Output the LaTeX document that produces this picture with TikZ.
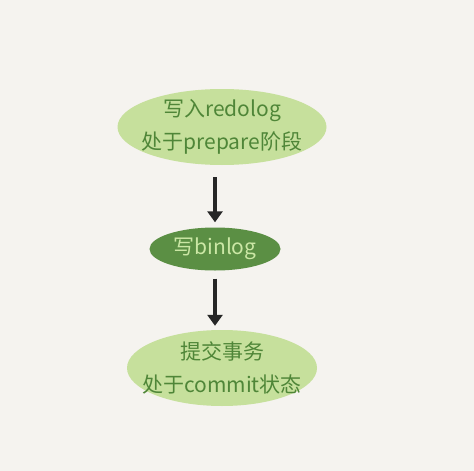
\documentclass[tikz,border=0pt]{standalone}
\usepackage{fontspec}
\newfontfamily\cjk{Noto Sans CJK SC}
\usetikzlibrary{arrows.meta,positioning,shapes.geometric}
\definecolor{paper}{HTML}{F5F3EF}
\definecolor{leaf}{HTML}{C6E09C}
\definecolor{moss}{HTML}{5B8F44}
\definecolor{ink}{HTML}{4F8638}
\definecolor{pale}{HTML}{CBE7A5}

\begin{document}
\begin{tikzpicture}[x=1pt,y=-1pt,
  stage/.style={ellipse,fill=leaf,inner sep=0pt},
  words/.style={align=center,inner sep=0pt,font=\cjk\fontsize{21}{33}\selectfont,text=ink},
  flow/.style={line width=3.6pt,black!85,-{Triangle[length=11pt,width=15pt]}}]
  % background
  \fill[paper] (0,0) rectangle (474,471);
  \useasboundingbox (0,0) rectangle (474,471);

  % three steps
  \node[stage,minimum width=209pt,minimum height=76pt] (redo) at (222,127) {};
  \node[words] (redotext) at (redo) {写入redolog\\处于prepare阶段};
  \node[stage,fill=moss,minimum width=131pt,minimum height=43pt] (bin) at (215,249) {};
  \node[words,text=pale] (bintext) at (bin) {写binlog};
  \node[stage,minimum width=190pt,minimum height=76pt] (commit) at (222,368) {};
  \node[words] (committext) at (commit) {提交事务\\处于commit状态};

  % arrows
  \draw[flow,shorten <=12pt,shorten >=5pt] (redo.south -| bin.north) -- (bin.north);
  \draw[flow,shorten <=8pt,shorten >=4pt] (bin.south) -- (bin.south |- commit.north);
\end{tikzpicture}
\end{document}
